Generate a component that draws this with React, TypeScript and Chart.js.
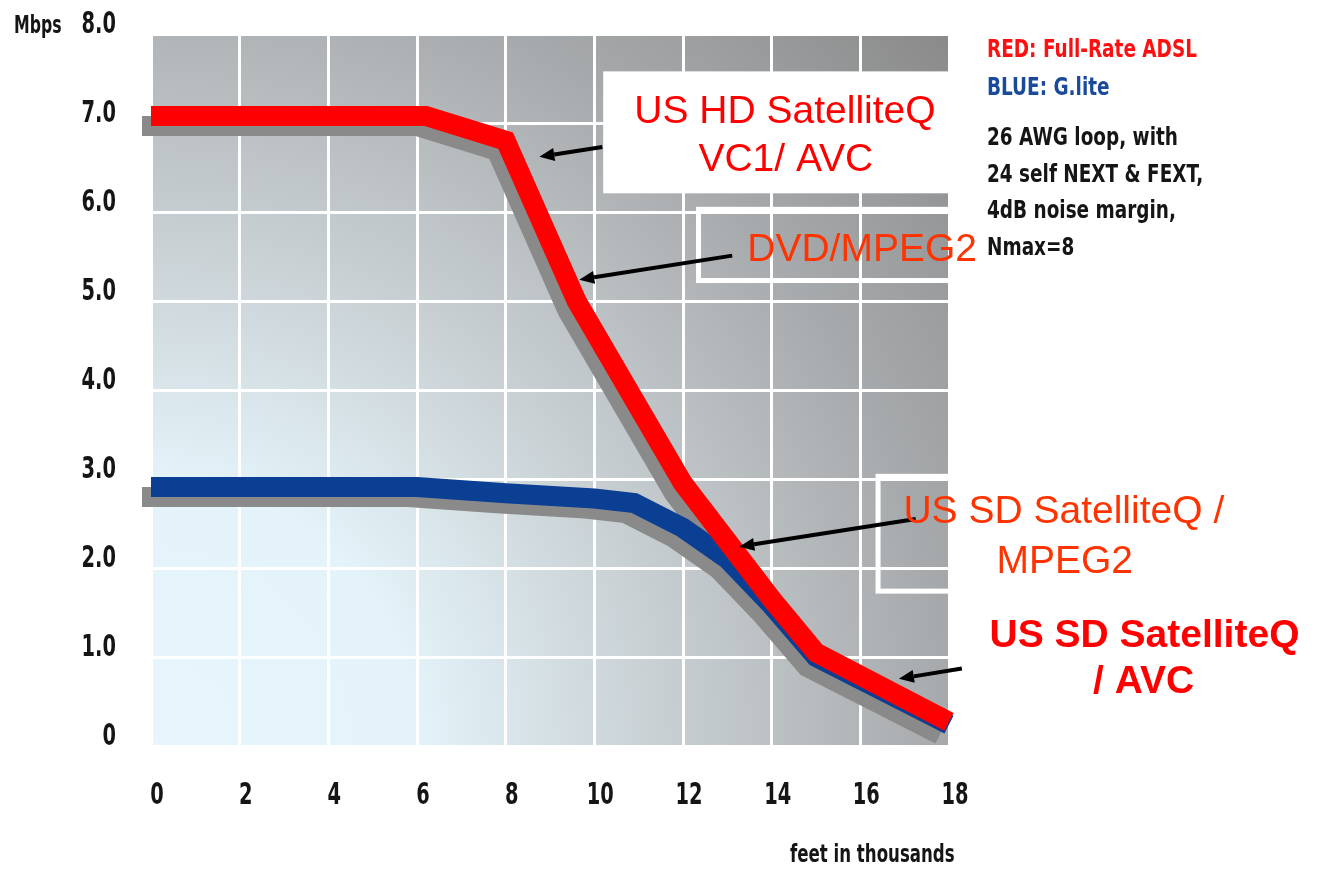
import React, { useEffect, useRef } from "react";
import { Chart, registerables } from "chart.js";

Chart.register(...registerables);

// ---- data ----
const fullRateX = [0, 6.2, 8, 9.6, 12, 14, 15, 18];
const fullRateY = [7.08, 7.08, 6.8, 5.0, 2.95, 1.65, 1.05, 0.27];
const gliteX = [0, 6, 8, 10, 10.9, 12, 13, 14, 15, 18];
const gliteY = [2.91, 2.91, 2.84, 2.78, 2.73, 2.45, 2.1, 1.58, 1.0, 0.24];
const yTickValues = [0, 1, 2, 3, 4, 5, 6, 7, 8];
const yTickLabels = ["0", "1.0", "2.0", "3.0", "4.0", "5.0", "6.0", "7.0", "8.0"];
const xTickValues = [0, 2, 4, 6, 8, 10, 12, 14, 16, 18];
const xTickLabels = ["0", "2", "4", "6", "8", "10", "12", "14", "16", "18"];
const noteLines = ["26 AWG loop, with", "24 self NEXT & FEXT,", "4dB noise margin,", "Nmax=8"];

const NARROW = '"Liberation Sans Narrow", "DejaVu Sans Condensed", "DejaVu Sans", sans-serif';
const ARIAL = '"Liberation Sans", Arial, Helvetica, sans-serif';

const toPoints = (xs: number[], ys: number[]) => xs.map((x, i) => ({ x, y: ys[i] }));

// draws horizontally condensed text (the original uses a very narrow face)
const narrowText = (
  ctx: CanvasRenderingContext2D,
  t: string,
  x: number,
  y: number,
  align: CanvasTextAlign,
  sx: number,
  baseline: CanvasTextBaseline = "alphabetic"
) => {
  ctx.save();
  ctx.translate(x, y);
  ctx.scale(sx, 1);
  ctx.textAlign = align;
  ctx.textBaseline = baseline;
  ctx.fillText(t, 0, 0);
  ctx.restore();
};

const bgPlugin = {
  id: "bgGradient",
  beforeDraw(chart: any) {
    const { ctx, chartArea: a } = chart;
    const cx = a.left;
    const cy = a.bottom;
    const r = Math.hypot(a.right - a.left, a.bottom - a.top);
    const g = ctx.createRadialGradient(cx, cy, 0, cx, cy, r);
    g.addColorStop(0, "#e6f6fc");
    g.addColorStop(0.25, "#e3f3f9");
    g.addColorStop(0.42, "#cfd8dc");
    g.addColorStop(0.6, "#b9bec1");
    g.addColorStop(0.75, "#a6a9ab");
    g.addColorStop(1, "#8a8a8a");
    ctx.save();
    ctx.fillStyle = g;
    ctx.fillRect(a.left, a.top, a.right - a.left, a.bottom - a.top);
    ctx.restore();
  },
};

const shadowPlugin = {
  id: "lineShadow",
  beforeDatasetDraw(chart: any, args: any) {
    const ds = chart.data.datasets[args.index];
    if (ds && ds.isShadow) {
      chart.ctx.save();
      chart.ctx.translate(-9, 10);
    }
  },
  afterDatasetDraw(chart: any, args: any) {
    const ds = chart.data.datasets[args.index];
    if (ds && ds.isShadow) chart.ctx.restore();
  },
};

const tickPlugin = {
  id: "narrowTicks",
  afterDraw(chart: any) {
    const { ctx } = chart;
    const xs = chart.scales.x;
    const ys = chart.scales.y;
    ctx.save();
    ctx.fillStyle = "#151515";
    ctx.font = `bold 30px ${NARROW}`;
    ys.ticks.forEach((t: any) => {
      const i = yTickValues.indexOf(Number(t.value));
      if (i < 0) return;
      narrowText(ctx, yTickLabels[i], xs.left - 35, ys.getPixelForValue(t.value) - 9, "right", 0.72, "middle");
    });
    xs.ticks.forEach((t: any) => {
      const i = xTickValues.indexOf(Number(t.value));
      if (i < 0) return;
      narrowText(ctx, xTickLabels[i], xs.getPixelForValue(t.value) + 6, ys.bottom + 50, "center", 0.72, "middle");
    });
    ctx.restore();
  },
};

const annotationPlugin = {
  id: "callouts",
  afterDraw(chart: any) {
    const { ctx } = chart;
    const xs = chart.scales.x;
    const ys = chart.scales.y;
    const px = (v: number) => xs.getPixelForValue(v);
    const py = (v: number) => ys.getPixelForValue(v);

    ctx.save();
    // filled white callout box
    ctx.fillStyle = "#ffffff";
    const b1x = px(10.2), b1y = py(7.58);
    ctx.fillRect(b1x, b1y, px(18.3) - b1x, py(6.21) - b1y);

    // outlined boxes
    ctx.strokeStyle = "#ffffff";
    ctx.lineWidth = 5;
    const b2x = px(12.35), b2y = py(6.03);
    ctx.strokeRect(b2x, b2y, px(19.68) - b2x, py(5.23) - b2y);
    const b3x = px(16.4), b3y = py(3.03);
    ctx.strokeRect(b3x, b3y, px(24.5) - b3x, py(1.74) - b3y);

    // arrows
    const arrow = (x1: number, y1: number, x2: number, y2: number) => {
      const sx = px(x1), sy = py(y1), ex = px(x2), ey = py(y2);
      const ang = Math.atan2(ey - sy, ex - sx);
      const hl = 15, hw = 6.5;
      const bx = ex - hl * Math.cos(ang), by = ey - hl * Math.sin(ang);
      ctx.strokeStyle = "#000000";
      ctx.lineWidth = 4;
      ctx.lineCap = "butt";
      ctx.beginPath();
      ctx.moveTo(sx, sy);
      ctx.lineTo(bx, by);
      ctx.stroke();
      ctx.fillStyle = "#000000";
      ctx.beginPath();
      ctx.moveTo(ex, ey);
      ctx.lineTo(bx - hw * Math.sin(ang), by + hw * Math.cos(ang));
      ctx.lineTo(bx + hw * Math.sin(ang), by - hw * Math.cos(ang));
      ctx.closePath();
      ctx.fill();
    };
    arrow(10.18, 6.73, 8.76, 6.62);
    arrow(13.11, 5.51, 9.66, 5.24);
    arrow(17.25, 2.55, 13.27, 2.24);
    arrow(18.29, 0.87, 16.87, 0.755);

    // callout texts (cap-centred)
    const label = (t: string, x: number, y: number, color: string, bold: boolean) => {
      const size = 39;
      ctx.font = `${bold ? "bold " : ""}${size}px ${ARIAL}`;
      ctx.fillStyle = color;
      ctx.textAlign = "center";
      ctx.textBaseline = "alphabetic";
      ctx.fillText(t, px(x), py(y) + 0.358 * size);
    };
    label("US HD SatelliteQ", 14.3, 7.16, "#ff0000", false);
    label("VC1/ AVC", 14.32, 6.62, "#ff0000", false);
    label("DVD/MPEG2", 16.04, 5.61, "#ff3300", false);
    label("US SD SatelliteQ /", 20.59, 2.66, "#ff3300", false);
    label("MPEG2", 20.61, 2.1, "#ff3300", false);
    label("US SD SatelliteQ", 22.41, 1.27, "#ff0000", true);
    label("/ AVC", 22.39, 0.755, "#ff0000", true);

    // side notes
    ctx.font = `bold 25px ${NARROW}`;
    ctx.fillStyle = "#ff1010";
    narrowText(ctx, "RED: Full-Rate ADSL", 987, 57, "left", 0.82);
    ctx.fillStyle = "#1a4b9b";
    narrowText(ctx, "BLUE: G.lite", 987, 95, "left", 0.82);
    ctx.fillStyle = "#151515";
    const bases = [145, 182, 218, 255];
    noteLines.forEach((t, i) => narrowText(ctx, t, 987, bases[i], "left", 0.82));

    // axis titles
    narrowText(ctx, "Mbps", 14, 33, "left", 0.7);
    ctx.font = `bold 24px ${NARROW}`;
    narrowText(ctx, "feet in thousands", 790, 862, "left", 0.77);
    ctx.restore();
  },
};

export default function App() {
  const ref = useRef<HTMLCanvasElement | null>(null);

  useEffect(() => {
    if (!ref.current) return;
    const red = toPoints(fullRateX, fullRateY);
    const blue = toPoints(gliteX, gliteY);
    const common = {
      borderWidth: 20,
      pointRadius: 0,
      pointHoverRadius: 0,
      tension: 0,
      fill: false,
      borderCapStyle: "butt" as const,
      borderJoinStyle: "miter" as const,
      clip: false as const,
    };
    const chart = new Chart(ref.current, {
      type: "line",
      data: {
        datasets: [
          { ...common, label: "RED: Full-Rate ADSL", data: red, borderColor: "#ff0000", order: 0 },
          { ...common, label: "BLUE: G.lite", data: blue, borderColor: "#0b3f93", order: 1 },
          { ...common, label: "red shadow", data: red, borderColor: "#8a8a8a", order: 2, isShadow: true } as any,
          { ...common, label: "blue shadow", data: blue, borderColor: "#8a8a8a", order: 3, isShadow: true } as any,
        ],
      },
      options: {
        animation: false,
        responsive: true,
        maintainAspectRatio: false,
        devicePixelRatio: 1,
        layout: { padding: { left: 0, top: 34, right: 369, bottom: 0 } },
        plugins: {
          legend: { display: false },
          tooltip: { enabled: false },
          title: { display: false },
        },
        events: [],
        scales: {
          x: {
            type: "linear",
            min: 0,
            max: 18,
            border: { display: false },
            grid: { color: "#ffffff", lineWidth: 3, drawTicks: false },
            afterBuildTicks: (s: any) => {
              s.ticks = xTickValues.map((v) => ({ value: v }));
            },
            afterFit: (s: any) => {
              s.height = 123;
            },
            ticks: { display: false, autoSkip: false },
          },
          y: {
            type: "linear",
            min: 0,
            max: 8,
            border: { display: false },
            grid: { color: "#ffffff", lineWidth: 3, drawTicks: false },
            afterBuildTicks: (s: any) => {
              s.ticks = yTickValues.map((v) => ({ value: v }));
            },
            afterFit: (s: any) => {
              s.width = 151;
            },
            ticks: { display: false, autoSkip: false },
          },
        },
      },
      plugins: [bgPlugin, shadowPlugin, tickPlugin, annotationPlugin],
    });
    return () => chart.destroy();
  }, []);

  return (
    <div style={{ position: "absolute", left: 0, top: 0, width: 1318, height: 869, background: "#ffffff" }}>
      <canvas ref={ref} />
    </div>
  );
}
